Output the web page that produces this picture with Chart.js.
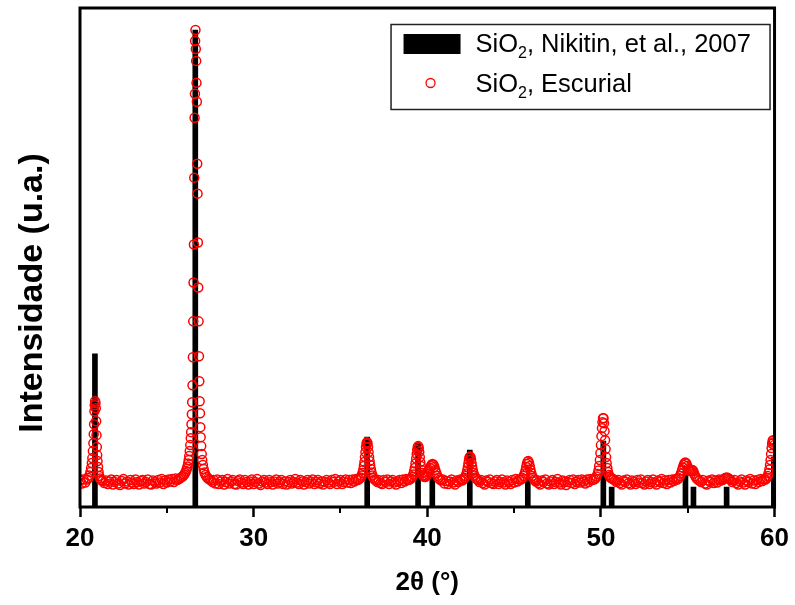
<!DOCTYPE html>
<html>
<head>
<meta charset="utf-8">
<script src="https://cdn.jsdelivr.net/npm/chart.js@4"></script>
<style>
html, body { margin: 0; padding: 0; background: #fff; }
canvas { display: block; }
</style>
</head>
<body>
<canvas id="xrd" width="795" height="605"></canvas>
<script>
// reference lines (Nikitin et al., 2007)
const refTheta = [20.86, 26.64, 36.54, 39.47, 40.29, 42.45, 45.79, 50.14, 50.62, 54.87, 55.33, 57.24, 59.96]
const refIntensity = [307, 956, 140, 128, 60, 114, 60, 132, 40, 80, 40, 40, 100]

// measured pattern, [2theta, intensity]
const escurial = [
  [20.0,53],[20.1,47],[20.2,55],[20.3,49],
  [20.40,55],[20.48,58],[20.54,63],[20.60,70],[20.64,78],[20.68,88],[20.71,98],[20.74,112],[20.77,128],[20.79,146],
  [20.81,166],[20.83,192],[20.85,204],[20.87,212],[20.89,208],[20.91,198],[20.93,172],[20.95,144],[20.97,120],
  [20.99,104],[21.01,92],[21.04,80],[21.07,70],[21.11,62],[21.16,57],[21.22,54],[21.30,52],[21.40,48],
  [21.5,53],[21.6,46],[21.7,51],[21.8,55],[21.9,45],[22.0,50],[22.1,54],[22.2,47],[22.3,44],[22.4,52],[22.5,56],
  [22.6,47],[22.7,51],[22.8,45],[22.9,54],[23.0,49],[23.1,46],[23.2,55],[23.3,50],[23.4,45],[23.5,52],[23.6,54],
  [23.7,47],[23.8,50],[23.9,55],[24.0,46],[24.1,45],[24.2,53],[24.3,50],[24.4,47],[24.5,54],[24.6,49],[24.7,56],
  [24.8,46],[24.9,53],[25.0,49],[25.1,55],[25.2,51],[25.3,56],[25.4,50],[25.5,57],[25.6,54],
  [25.70,56],[25.78,58],[25.86,60],[25.94,62],[26.00,65],[26.06,68],[26.11,72],[26.15,76],[26.19,81],[26.23,87],
  [26.26,94],[26.29,102],[26.32,112],[26.35,124],[26.38,138],[26.40,150],[26.42,166],[26.44,186],[26.46,210],
  [26.48,244],[26.50,300],[26.52,372],[26.54,450],[26.56,526],[26.58,660],[26.60,780],[26.62,828],[26.63,934],
  [26.65,956],[26.67,918],[26.69,894],[26.71,850],[26.73,812],[26.75,688],[26.77,628],[26.79,530],[26.81,440],
  [26.83,372],[26.85,302],[26.87,252],[26.89,212],[26.91,188],[26.93,160],[26.95,140],[26.98,122],[27.01,106],
  [27.04,94],[27.08,84],[27.12,76],[27.17,69],[27.23,64],[27.30,60],[27.38,57],[27.46,55],[27.55,53],[27.64,50],
  [27.7,54],[27.8,47],[27.9,55],[28.0,46],[28.1,51],[28.2,54],[28.3,45],[28.4,50],[28.5,56],[28.6,47],[28.7,51],
  [28.8,54],[28.9,46],[29.0,45],[29.1,52],[29.2,55],[29.3,49],[29.4,46],[29.5,54],[29.6,50],[29.7,45],[29.8,51],
  [29.9,55],[30.0,46],[30.1,50],[30.2,56],[30.3,47],[30.4,44],[30.5,51],[30.6,54],[30.7,49],[30.8,46],[30.9,54],
  [31.0,50],[31.1,45],[31.2,51],[31.3,55],[31.4,47],[31.5,50],[31.6,54],[31.7,46],[31.8,51],[31.9,45],[32.0,50],
  [32.1,54],[32.2,47],[32.3,50],[32.4,56],[32.5,49],[32.6,46],[32.7,54],[32.8,51],[32.9,45],[33.0,50],[33.1,54],
  [33.2,47],[33.3,51],[33.4,55],[33.5,46],[33.6,50],[33.7,54],[33.8,47],[33.9,51],[34.0,45],[34.1,50],[34.2,54],
  [34.3,49],[34.4,46],[34.5,54],[34.6,50],[34.7,56],[34.8,46],[34.9,51],[35.0,54],[35.1,46],[35.2,50],[35.3,55],
  [35.4,49],[35.5,54],[35.6,48],[35.7,55],[35.8,51],[35.9,56],
  [36.00,54],[36.08,56],[36.16,59],[36.22,63],[36.27,68],[36.31,74],[36.35,82],[36.38,90],[36.41,100],[36.44,110],
  [36.47,120],[36.50,127],[36.53,130],[36.56,128],[36.59,120],[36.62,110],[36.65,100],[36.68,92],[36.71,84],
  [36.75,76],[36.79,69],[36.84,63],[36.90,58],[36.97,55],[37.05,53],[37.13,50],
  [37.2,54],[37.3,48],[37.4,46],[37.5,54],[37.6,50],[37.7,55],[37.8,46],[37.9,51],[38.0,54],[38.1,49],[38.2,45],
  [38.3,51],[38.4,54],[38.5,48],[38.6,55],[38.7,51],[38.8,56],[38.9,54],
  [38.98,55],[39.06,57],[39.13,60],[39.19,65],[39.24,71],[39.28,78],[39.32,87],[39.36,97],[39.39,106],[39.42,114],
  [39.45,120],[39.48,122],[39.51,118],[39.54,110],[39.57,100],[39.60,90],[39.63,82],[39.67,74],[39.71,68],
  [39.76,63],[39.81,61],[39.86,60],[39.91,61],[39.96,63],[40.01,66],[40.06,70],[40.11,74],[40.16,78],[40.21,82],
  [40.26,85],[40.31,86],[40.36,84],[40.41,80],[40.46,74],[40.52,68],[40.58,62],[40.65,58],[40.73,55],[40.81,53],
  [40.9,55],[41.0,47],[41.1,52],[41.2,46],[41.3,51],[41.4,55],[41.5,49],[41.6,45],[41.7,53],[41.8,50],[41.9,55],
  [42.0,53],
  [42.08,55],[42.15,58],[42.21,62],[42.26,67],[42.30,73],[42.34,80],[42.37,87],[42.40,94],[42.43,99],[42.46,101],
  [42.49,100],[42.52,95],[42.55,88],[42.58,81],[42.62,74],[42.66,68],[42.71,63],[42.77,59],[42.84,56],[42.92,54],
  [43.0,50],[43.1,54],[43.2,48],[43.3,45],[43.4,53],[43.5,50],[43.6,55],[43.7,48],[43.8,46],[43.9,51],[44.0,54],
  [44.1,46],[44.2,50],[44.3,55],[44.4,49],[44.5,45],[44.6,53],[44.7,50],[44.8,46],[44.9,54],[45.0,49],[45.1,56],
  [45.2,51],[45.3,55],
  [45.40,55],[45.48,58],[45.55,62],[45.61,67],[45.66,73],[45.70,80],[45.74,86],[45.78,91],[45.82,92],[45.86,88],
  [45.90,82],[45.94,75],[45.99,68],[46.04,62],[46.10,58],[46.17,55],[46.25,51],
  [46.3,54],[46.4,48],[46.5,45],[46.6,53],[46.7,50],[46.8,55],[46.9,47],[47.0,45],[47.1,51],[47.2,54],[47.3,46],
  [47.4,50],[47.5,56],[47.6,49],[47.7,45],[47.8,53],[47.9,50],[48.0,44],[48.1,50],[48.2,54],[48.3,48],[48.4,55],
  [48.5,46],[48.6,50],[48.7,54],[48.8,49],[48.9,55],[49.0,51],[49.1,47],[49.2,55],[49.3,50],[49.4,56],[49.5,54],
  [49.60,55],[49.68,57],[49.75,61],[49.81,66],[49.86,73],[49.90,82],[49.94,94],[49.97,108],[50.00,124],[50.03,142],
  [50.06,158],[50.09,170],[50.12,178],[50.15,178],[50.18,168],[50.21,152],[50.24,134],[50.27,116],[50.30,100],
  [50.33,88],[50.37,78],[50.41,70],[50.46,64],[50.52,60],[50.58,58],[50.65,57],[50.73,55],[50.82,53],[50.91,50],
  [51.0,54],[51.1,48],[51.2,45],[51.3,53],[51.4,50],[51.5,55],[51.6,48],[51.7,45],[51.8,53],[51.9,50],[52.0,46],
  [52.1,54],[52.2,49],[52.3,55],[52.4,48],[52.5,45],[52.6,51],[52.7,54],[52.8,46],[52.9,50],[53.0,55],[53.1,49],
  [53.2,45],[53.3,53],[53.4,50],[53.5,56],[53.6,48],[53.7,53],[53.8,46],[53.9,54],[54.0,49],[54.1,55],[54.2,52],
  [54.3,56],
  [54.40,55],[54.48,58],[54.55,62],[54.61,67],[54.67,73],[54.72,79],[54.77,84],[54.82,88],[54.87,89],[54.92,87],
  [54.97,82],[55.02,77],[55.07,74],[55.12,72],[55.17,72],[55.22,74],[55.27,74],[55.32,72],[55.37,67],[55.43,62],
  [55.50,58],[55.58,55],[55.67,53],[55.77,50],[55.87,54],
  [56.0,47],[56.1,45],[56.2,53],[56.3,50],[56.4,55],[56.5,48],[56.6,53],[56.7,49],[56.8,55],
  [56.90,53],[57.00,54],[57.08,56],[57.16,58],[57.24,59],[57.32,58],[57.40,56],[57.48,54],[57.56,50],
  [57.7,54],[57.8,48],[57.9,45],[58.0,51],[58.1,55],[58.2,49],[58.3,45],[58.4,53],[58.5,50],[58.6,56],[58.7,47],
  [58.8,53],[58.9,46],[59.0,54],[59.1,50],[59.2,56],[59.3,52],[59.4,56],
  [59.48,55],[59.55,58],[59.61,62],[59.66,68],[59.70,75],[59.74,84],[59.77,94],[59.80,106],[59.83,118],[59.86,127],
  [59.89,133],[59.92,134],[59.95,130],[59.98,124]
]

const seriesNames = ['SiO₂, Nikitin, et al., 2007', 'SiO₂, Escurial']
const xTicks = [20, 30, 40, 50, 60]
const xMinorTicks = [25, 35, 45, 55]
const xTitle = '2θ (°)'
const yTitle = 'Intensidade (u.a.)'

Chart.defaults.font.family = "'Liberation Sans', Arial, sans-serif"
Chart.defaults.color = '#000'

// writes "SiO₂..." with a real lowered subscript
function drawSubText(ctx, text, x, y, size) {
  const parts = text.split('₂')
  ctx.textBaseline = 'alphabetic'
  ctx.textAlign = 'left'
  parts.forEach((p, i) => {
    ctx.font = size + "px 'Liberation Sans', Arial, sans-serif"
    ctx.fillText(p, x, y)
    x += ctx.measureText(p).width
    if (i < parts.length - 1) {
      ctx.font = Math.round(size * 0.62) + "px 'Liberation Sans', Arial, sans-serif"
      ctx.fillText('2', x, y + size * 0.25)
      x += ctx.measureText('2').width
    }
  })
}

const framePlugin = {
  id: 'frame',
  afterDatasetsDraw(chart) {
    const {ctx, chartArea: a, scales: {x}} = chart
    ctx.save()
    ctx.strokeStyle = '#000'
    ctx.lineWidth = 3
    ctx.strokeRect(a.left, a.top, a.right - a.left, a.bottom - a.top)
    ctx.lineWidth = 2
    xMinorTicks.forEach(v => {
      const px = Math.round(x.getPixelForValue(v))
      ctx.beginPath()
      ctx.moveTo(px, a.bottom)
      ctx.lineTo(px, a.bottom + 6)
      ctx.stroke()
    })
    ctx.restore()
  },
  afterDraw(chart) {
    const {ctx, chartArea: a} = chart
    ctx.save()
    // y title
    ctx.translate(33, 293)
    ctx.rotate(-Math.PI / 2)
    ctx.font = "bold 34px 'Liberation Sans', Arial, sans-serif"
    ctx.textAlign = 'center'
    ctx.textBaseline = 'middle'
    ctx.fillStyle = '#000'
    ctx.fillText(yTitle, 0, 0)
    ctx.restore()

    // legend
    ctx.save()
    const lx = a.right - 384, ly = a.top + 16
    ctx.fillStyle = '#fff'
    ctx.fillRect(lx, ly, 380, 85)
    ctx.strokeStyle = '#222'
    ctx.lineWidth = 1.5
    ctx.strokeRect(lx + 0.5, ly + 0.5, 379, 85)
    ctx.fillStyle = '#000'
    ctx.fillRect(lx + 13, ly + 10, 57, 20)
    ctx.beginPath()
    ctx.arc(lx + 40, ly + 59, 4.5, 0, Math.PI * 2)
    ctx.strokeStyle = '#ff0000'
    ctx.lineWidth = 1.3
    ctx.stroke()
    ctx.fillStyle = '#000'
    drawSubText(ctx, seriesNames[0], lx + 85, ly + 28, 25.5)
    drawSubText(ctx, seriesNames[1], lx + 85, ly + 68, 25.5)
    ctx.restore()
  }
}

const config = {
  type: 'scatter',
  data: {
    datasets: [
      {
        type: 'bar',
        label: seriesNames[0],
        data: refTheta.map((t, i) => ({x: t, y: refIntensity[i]})),
        backgroundColor: '#000',
        barThickness: 5,
        order: 2,
        clip: 0
      },
      {
        type: 'scatter',
        label: seriesNames[1],
        data: escurial.map(p => ({x: p[0], y: p[1]})),
        pointStyle: 'circle',
        pointRadius: 4.5,
        pointBorderWidth: 1.5,
        borderColor: '#ff0000',
        backgroundColor: 'rgba(0,0,0,0)',
        order: 1,
        clip: 0
      }
    ]
  },
  options: {
    responsive: false,
    animation: false,
    layout: { padding: { left: 80, right: 19, top: 8, bottom: 0 } },
    plugins: {
      legend: { display: false },
      tooltip: { enabled: false }
    },
    scales: {
      x: {
        type: 'linear',
        min: 20,
        max: 60,
        offset: false,
        afterBuildTicks: scale => { scale.ticks = xTicks.map(v => ({value: v})) },
        afterFit: scale => { scale.height = 98 },
        grid: {
          offset: false,
          drawOnChartArea: false,
          drawTicks: true,
          tickLength: 10,
          tickWidth: 2.5,
          tickColor: '#000'
        },
        border: { display: false },
        ticks: {
          autoSkip: false,
          maxRotation: 0,
          padding: 6,
          color: '#000',
          font: { size: 26, weight: 'bold' }
        },
        title: {
          display: true,
          text: xTitle,
          color: '#000',
          font: { size: 26, weight: 'bold' },
          padding: { top: 0, bottom: 7 }
        }
      },
      y: {
        display: false,
        min: 0,
        max: 1000
      }
    }
  },
  plugins: [framePlugin]
}

const myChart = new Chart(document.getElementById('xrd'), config)
</script>
</body>
</html>
